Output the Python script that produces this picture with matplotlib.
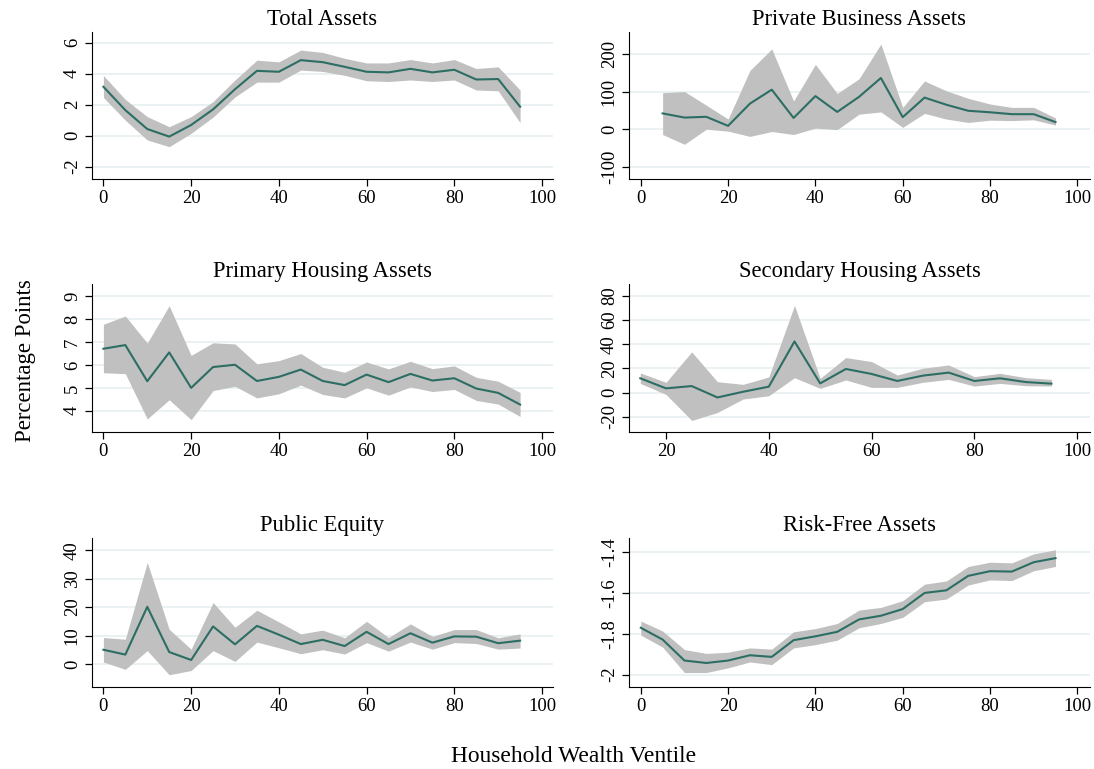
import matplotlib
matplotlib.use("Agg")
import matplotlib.pyplot as plt

plt.rcParams["font.family"] = ["Liberation Serif", "DejaVu Serif"]

ventile = list(range(0, 100, 5))
ventile_pb = list(range(5, 100, 5))
ventile_sh = list(range(15, 100, 5))

# Total Assets
total_est = [3.16, 1.65, 0.43, -0.06, 0.69, 1.70, 3.00, 4.19, 4.13, 4.88,
             4.75, 4.45, 4.13, 4.09, 4.32, 4.09, 4.26, 3.63, 3.66, 1.87]
total_hi = [3.89, 2.34, 1.23, 0.58, 1.23, 2.20, 3.60, 4.88, 4.77, 5.53,
            5.38, 5.00, 4.70, 4.70, 4.92, 4.70, 4.92, 4.34, 4.45, 2.95]
total_lo = [2.47, 1.00, -0.28, -0.71, 0.15, 1.20, 2.50, 3.46, 3.46, 4.24,
            4.15, 3.90, 3.55, 3.50, 3.60, 3.50, 3.60, 2.95, 2.90, 0.84]

# Private Business Assets
pb_est = [42, 31, 33, 9, 68, 105, 30, 88, 46, 86, 136, 32, 84, 65, 49, 45, 40, 40, 19]
pb_hi = [97, 100, 64, 27, 156, 213, 75, 172, 95, 134, 226, 58, 128, 102, 82, 67, 58, 58, 30]
pb_lo = [-14, -40, 0, -5, -19, -6, -14, 3, -1, 40, 46, 5, 42, 27, 18, 24, 23, 25, 11]

# Primary Housing Assets
ph_est = [6.71, 6.87, 5.29, 6.55, 5.00, 5.91, 6.01, 5.30, 5.48, 5.80,
          5.30, 5.12, 5.58, 5.25, 5.61, 5.32, 5.42, 4.97, 4.78, 4.27]
ph_hi = [7.78, 8.14, 6.96, 8.59, 6.42, 6.97, 6.92, 6.05, 6.19, 6.50,
         5.90, 5.68, 6.13, 5.83, 6.16, 5.84, 5.96, 5.46, 5.29, 4.80]
ph_lo = [5.66, 5.62, 3.64, 4.48, 3.61, 4.88, 5.07, 4.56, 4.74, 5.12,
         4.71, 4.56, 5.00, 4.68, 5.04, 4.84, 4.93, 4.45, 4.29, 3.75]

# Secondary Housing Assets
sh_est = [11.9, 3.6, 5.5, -3.9, 0.8, 5.0, 42.3, 7.7, 19.6, 15.5, 9.7, 14.1, 16.6, 9.7, 11.9, 8.8, 7.5]
sh_hi = [16.3, 8.6, 33.7, 9.1, 6.9, 13.0, 72.0, 11.9, 29.0, 25.7, 14.6, 20.2, 22.9, 13.3, 16.0, 12.4, 11.0]
sh_lo = [7.7, -1.4, -22.9, -16.3, -5.2, -2.5, 12.4, 3.6, 10.5, 4.4, 4.4, 8.6, 11.0, 5.5, 7.7, 5.8, 5.5]

# Public Equity
pe_est = [5.0, 3.3, 20.1, 4.2, 1.4, 13.2, 6.9, 13.4, 10.3, 7.0,
          8.5, 6.3, 11.3, 7.0, 10.8, 7.5, 9.7, 9.6, 7.3, 8.2]
pe_hi = [9.3, 8.7, 35.7, 12.2, 5.2, 21.6, 12.9, 18.9, 14.8, 10.6,
         11.9, 9.2, 15.0, 9.3, 14.1, 9.7, 12.1, 12.1, 9.2, 10.6]
pe_lo = [0.7, -1.9, 4.7, -3.8, -2.3, 4.7, 0.9, 7.7, 5.7, 3.6,
         5.0, 3.5, 7.5, 4.5, 7.7, 5.2, 7.5, 7.2, 5.2, 5.6]

# Risk-Free Assets
rf_est = [-1.770, -1.828, -1.931, -1.943, -1.931, -1.905, -1.913, -1.831, -1.812, -1.790,
          -1.729, -1.711, -1.678, -1.599, -1.586, -1.515, -1.492, -1.494, -1.448, -1.428]
rf_hi = [-1.737, -1.786, -1.877, -1.896, -1.890, -1.869, -1.875, -1.790, -1.774, -1.749,
         -1.683, -1.670, -1.637, -1.556, -1.540, -1.469, -1.448, -1.451, -1.407, -1.387]
rf_lo = [-1.806, -1.865, -1.990, -1.990, -1.967, -1.938, -1.951, -1.869, -1.853, -1.831,
         -1.770, -1.749, -1.719, -1.642, -1.629, -1.560, -1.535, -1.538, -1.490, -1.469]

panels = [
    ("Total Assets", ventile, total_est, total_lo, total_hi,
     [-2, 0, 2, 4, 6], (-2.8, 6.7), (-2.6, 102.5)),
    ("Private Business Assets", ventile_pb, pb_est, pb_lo, pb_hi,
     [-100, 0, 100, 200], (-132, 258), (-2.7, 102.9)),
    ("Primary Housing Assets", ventile, ph_est, ph_lo, ph_hi,
     [4, 5, 6, 7, 8, 9], (3.07, 9.54), (-2.6, 102.5)),
    ("Secondary Housing Assets", ventile_sh, sh_est, sh_lo, sh_hi,
     [-20, 0, 20, 40, 60, 80], (-32.4, 89.7), (12.8, 102.5)),
    ("Public Equity", ventile, pe_est, pe_lo, pe_hi,
     [0, 10, 20, 30, 40], (-8.1, 44.3), (-2.6, 102.5)),
    ("Risk-Free Assets", ventile, rf_est, rf_lo, rf_hi,
     [-2, -1.8, -1.6, -1.4], (-2.061, -1.329), (-2.7, 102.9)),
]

W, H = 1094, 769
fig = plt.figure(figsize=(W / 100, H / 100), dpi=100)

# axes boxes in pixels
col_x = [(92, 553), (629, 1090)]
row_y = [(32, 179), (284, 432), (538, 687)]

for i, (title, x, est, lo, hi, yticks, ylim, xlim) in enumerate(panels):
    r, c = divmod(i, 2)
    x0, x1 = col_x[c]
    y0, y1 = row_y[r]
    ax = fig.add_axes([x0 / W, 1 - y1 / H, (x1 - x0) / W, (y1 - y0) / H])
    ax.fill_between(x, lo, hi, color="#c0c0c0", linewidth=0, zorder=2)
    ax.plot(x, est, color="#2c6e63", linewidth=1.5, zorder=3)
    ax.set_xlim(*xlim)
    ax.set_ylim(*ylim)
    ax.set_yticks(yticks)
    ax.set_yticklabels([("%g" % t) for t in yticks], rotation=90, va="center")
    xt = [20, 40, 60, 80, 100] if xlim[0] > 5 else [0, 20, 40, 60, 80, 100]
    ax.set_xticks(xt)
    ax.grid(axis="y", color="#e6eff1", linewidth=1.2, zorder=0)
    ax.set_axisbelow(True)
    for s in ["top", "right"]:
        ax.spines[s].set_visible(False)
    ax.tick_params(labelsize=13.5, length=5, width=0.9, pad=3)
    ax.set_title(title, fontsize=16.3, pad=5)

fig.text(26 / W, 1 - 361 / H, "Percentage Points", rotation=90,
         ha="center", va="center", fontsize=16.4)
fig.text(574 / W, 1 - 757 / H, "Household Wealth Ventile",
         ha="center", va="center", fontsize=16.9)

fig.savefig("out.png", dpi=100)
